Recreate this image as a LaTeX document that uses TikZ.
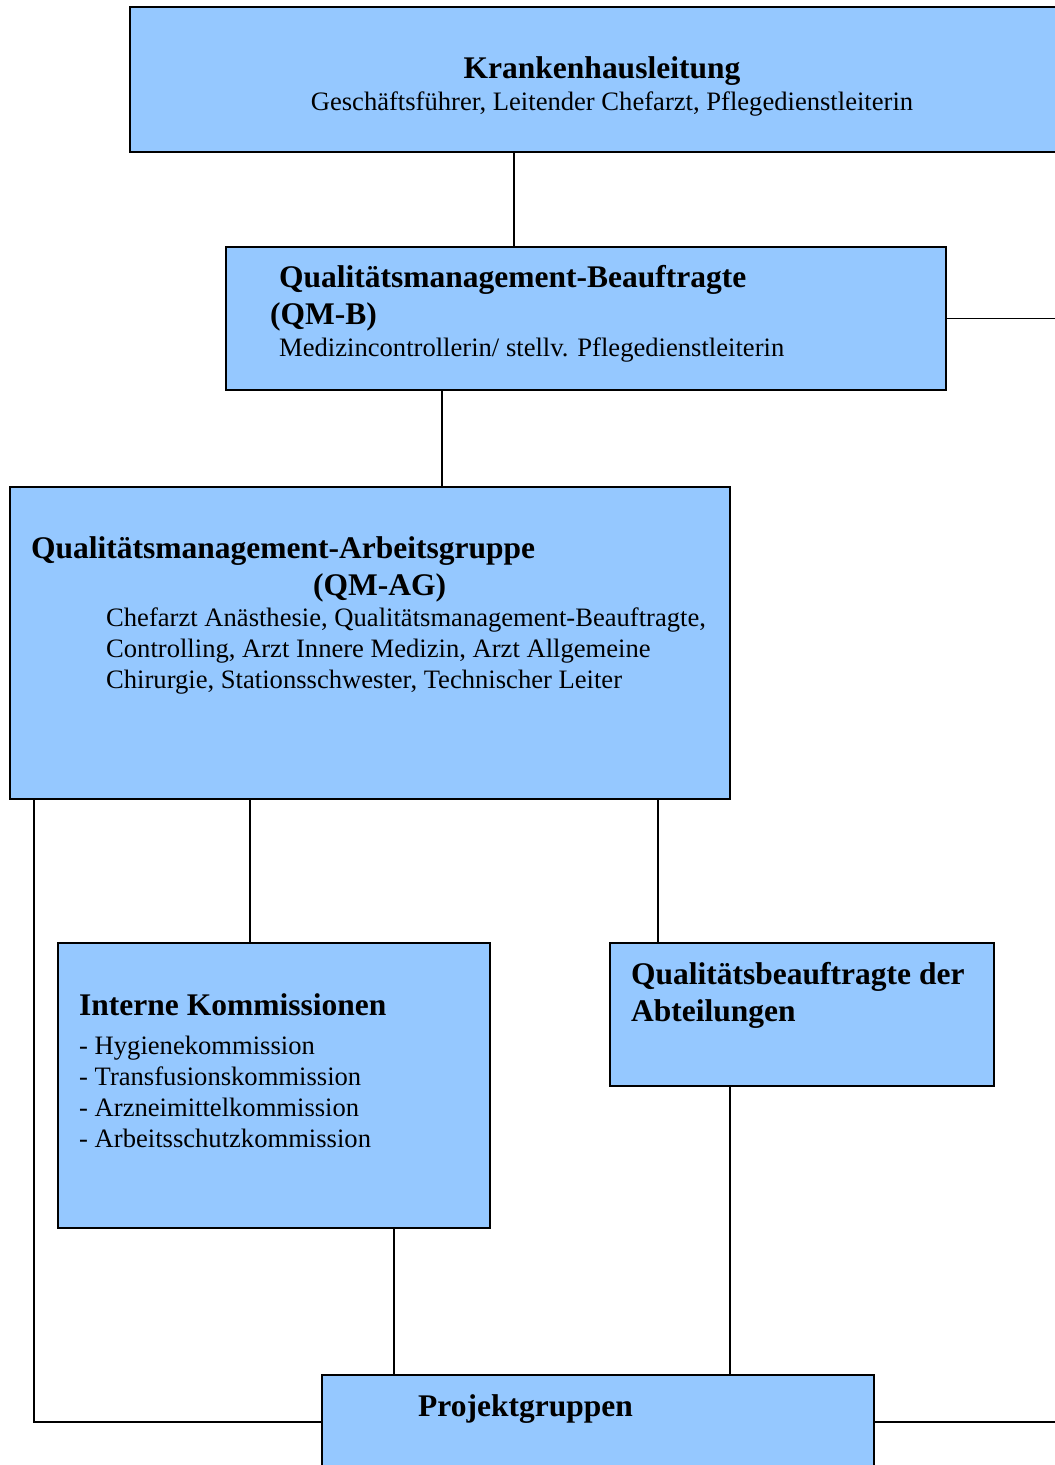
\documentclass[tikz,border=0pt]{standalone}
\usepackage{fontspec}
\setmainfont{Liberation Serif}
\usepackage{xcolor}
\definecolor{BoxBlue}{HTML}{95C8FF}
\usepackage{tikz}
\usetikzlibrary{calc,positioning}
\newcommand\TitleFont{\fontsize{31.5}{37}\selectfont\bfseries}
\newcommand\BodyFont{\fontsize{26.6}{31}\selectfont}
\tikzstyle{box}=[rectangle,draw=black,fill=BoxBlue,line width=2pt,inner sep=0pt]
\tikzstyle{txt}=[anchor=base west,inner sep=0pt]
\tikzstyle{wire}=[line width=1.6pt]
\begin{document}
\begin{tikzpicture}[x=1pt,y=-1pt]
      \useasboundingbox (0,0) rectangle (1055,1465);
      \clip (0,0) rectangle (1055,1465);
      \coordinate (l1) at (514,0);
      \coordinate (l2) at (442,0);
      \coordinate (l3) at (250,0);
      \coordinate (l4) at (658,0);
      \coordinate (l5) at (34,0);
      \coordinate (l6) at (394,0);
      \coordinate (l7) at (730,0);
      \coordinate (rim) at (1070,0);
      \node[box,minimum width=944,minimum height=145] (kh) at (602,79.5) {};
      \node[box,minimum width=720,minimum height=143] (qmb) at (586,318.5) {};
      \node[box,minimum width=720,minimum height=312] (qmag) at (370,643) {};
      \node[box,minimum width=432,minimum height=285] (ik) at (274,1085.5) {};
      \node[box,minimum width=384,minimum height=143] (qba) at (802,1014.5) {};
      \node[box,minimum width=552,minimum height=94] (pg) at (598,1422) {};
      \node[txt,anchor=base,font=\TitleFont] (khT) at (602,78) {Krankenhausleitung};
      \node[txt,anchor=base,font=\BodyFont] (khS) at (612,110) {Geschäftsführer, Leitender Chefarzt, Pflegedienstleiterin};
      \node[txt,font=\TitleFont] (qmbT) at (279,287) {Qualitätsmanagement-Beauftragte};
      \node[txt,font=\TitleFont] (qmbK) at (270,324) {(QM-B)};
      \node[txt,font=\BodyFont] (qmbS) at (279,356) {Medizincontrollerin/ stellv. Pflegedienstleiterin};
      \node[txt,font=\TitleFont] (qmagT) at (31,558) {Qualitätsmanagement-Arbeitsgruppe};
      \node[txt,font=\TitleFont] (qmagK) at (313,595) {(QM-AG)};
      \node[txt,align=left,font=\BodyFont] (qmagS) at (106,688) {Chefarzt Anästhesie, Qualitätsmanagement-Beauftragte,\\
        Controlling, Arzt Innere Medizin, Arzt Allgemeine\\
        Chirurgie, Stationsschwester, Technischer Leiter};
      \node[txt,font=\TitleFont] (ikT) at (79,1015) {Interne Kommissionen};
      \node[txt,align=left,font=\BodyFont] (ikS) at (79,1147) {- Hygienekommission\\
        - Transfusionskommission\\
        - Arzneimittelkommission\\
        - Arbeitsschutzkommission};
      \node[txt,align=left,font=\TitleFont] (qbaT) at (631,1021) {Qualitätsbeauftragte der\\ Abteilungen};
      \node[txt,font=\TitleFont] (pgT) at (418,1416) {Projektgruppen};
      \draw[wire] (kh.south -| l1) -- (qmb.north -| l1);
      \draw[wire] (qmb.east) -- (qmb.east -| rim);
      \draw[wire] (qmb.south -| l2) -- (qmag.north -| l2);
      \draw[wire] (qmag.south -| l3) -- (ik.north -| l3);
      \draw[wire] (qmag.south -| l4) -- (qba.north -| l4);
      \draw[wire] (qmag.south -| l5) |- (pg.west);
      \draw[wire] (ik.south -| l6) -- (pg.north -| l6);
      \draw[wire] (qba.south -| l7) -- (pg.north -| l7);
      \draw[wire] (pg.east) -- (pg.east -| rim);
   \end{tikzpicture}
\end{document}
